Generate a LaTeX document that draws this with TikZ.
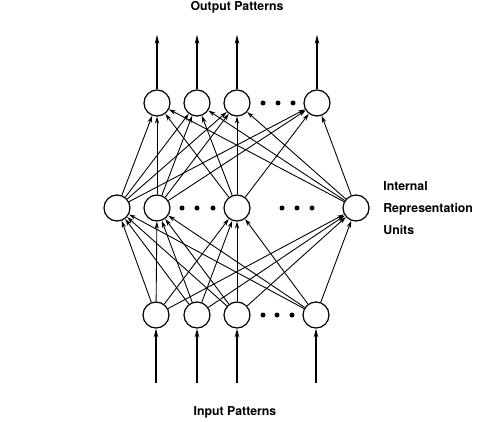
\documentclass[tikz,border=0pt]{standalone}
\usepackage{fontspec}
\setmainfont{TeX Gyre Heros}
\usetikzlibrary{arrows.meta}

\begin{document}
\begin{tikzpicture}[
  x=0.02cm, y=-0.02cm,
  unit/.style  = {circle, draw=black, line width=0.7pt, minimum size=0.52cm, inner sep=0pt},
  lbl/.style   = {font=\fontsize{7}{12.5}\selectfont\bfseries, inner sep=0pt},
  arr/.style   = {-{Stealth[length=4pt,width=2.4pt]}, line width=0.5pt, black},
  io/.style    = {-{Stealth[length=5pt,width=2.6pt]}, line width=0.7pt, black},
  dot/.style   = {fill=black}
]
\useasboundingbox (0,0) rectangle (490,422);

%% Output units
\node[unit] (out1) at (157,103) {};
\node[unit] (out2) at (197,103) {};
\node[unit] (out3) at (237,103) {};
\node[unit] (out4) at (317,103) {};

%% Internal representation units
\node[unit] (hid1) at (117,208) {};
\node[unit] (hid2) at (157,208) {};
\node[unit] (hid3) at (237,208) {};
\node[unit] (hid4) at (356,208) {};

%% Input units
\node[unit] (in1) at (156,315) {};
\node[unit] (in2) at (197,315) {};
\node[unit] (in3) at (237,315) {};
\node[unit] (in4) at (316,315) {};

%% Dots
\fill[dot] (263,103) circle[radius=0.05cm] (278,103) circle[radius=0.05cm] (293,103) circle[radius=0.05cm];
\fill[dot] (182,208) circle[radius=0.05cm] (197,208) circle[radius=0.05cm] (213,208) circle[radius=0.05cm];
\fill[dot] (282,208) circle[radius=0.05cm] (297,208) circle[radius=0.05cm] (312,208) circle[radius=0.05cm];
\fill[dot] (263,315) circle[radius=0.05cm] (277,315) circle[radius=0.05cm] (292,315) circle[radius=0.05cm];

%% Labels
\node[lbl] (outlbl) at (237,7)   {Output Patterns};
\node[lbl] (inlbl)  at (235,412) {Input Patterns};
\node[lbl, anchor=west, align=left] (intlbl) at (383,208) {Internal\\Representation\\Units};

%% Free ends of the pattern arrows
\coordinate (otop1) at (157,35);
\coordinate (otop2) at (197,35);
\coordinate (otop3) at (237,35);
\coordinate (otop4) at (317,35);
\coordinate (ibot1) at (156,383);
\coordinate (ibot2) at (197,383);
\coordinate (ibot3) at (237,383);
\coordinate (ibot4) at (316,383);

%% Output pattern arrows
\draw[io] (out1) -- (otop1);
\draw[io] (out2) -- (otop2);
\draw[io] (out3) -- (otop3);
\draw[io] (out4) -- (otop4);

%% Input pattern arrows
\draw[io] (ibot1) -- (in1);
\draw[io] (ibot2) -- (in2);
\draw[io] (ibot3) -- (in3);
\draw[io] (ibot4) -- (in4);

%% Input -> internal
\draw[arr] (in1) -- (hid1);
\draw[arr] (in1) -- (hid2);
\draw[arr] (in1) -- (hid3);
\draw[arr] (in1) -- (hid4);
\draw[arr] (in2) -- (hid1);
\draw[arr] (in2) -- (hid2);
\draw[arr] (in2) -- (hid3);
\draw[arr] (in2) -- (hid4);
\draw[arr] (in3) -- (hid1);
\draw[arr] (in3) -- (hid2);
\draw[arr] (in3) -- (hid3);
\draw[arr] (in3) -- (hid4);
\draw[arr] (in4) -- (hid1);
\draw[arr] (in4) -- (hid2);
\draw[arr] (in4) -- (hid3);
\draw[arr] (in4) -- (hid4);

%% Internal -> output
\draw[arr] (hid1) -- (out1);
\draw[arr] (hid1) -- (out2);
\draw[arr] (hid1) -- (out3);
\draw[arr] (hid1) -- (out4);
\draw[arr] (hid2) -- (out1);
\draw[arr] (hid2) -- (out2);
\draw[arr] (hid2) -- (out3);
\draw[arr] (hid2) -- (out4);
\draw[arr] (hid3) -- (out1);
\draw[arr] (hid3) -- (out2);
\draw[arr] (hid3) -- (out3);
\draw[arr] (hid3) -- (out4);
\draw[arr] (hid4) -- (out1);
\draw[arr] (hid4) -- (out2);
\draw[arr] (hid4) -- (out3);
\draw[arr] (hid4) -- (out4);
\end{tikzpicture}
\end{document}
